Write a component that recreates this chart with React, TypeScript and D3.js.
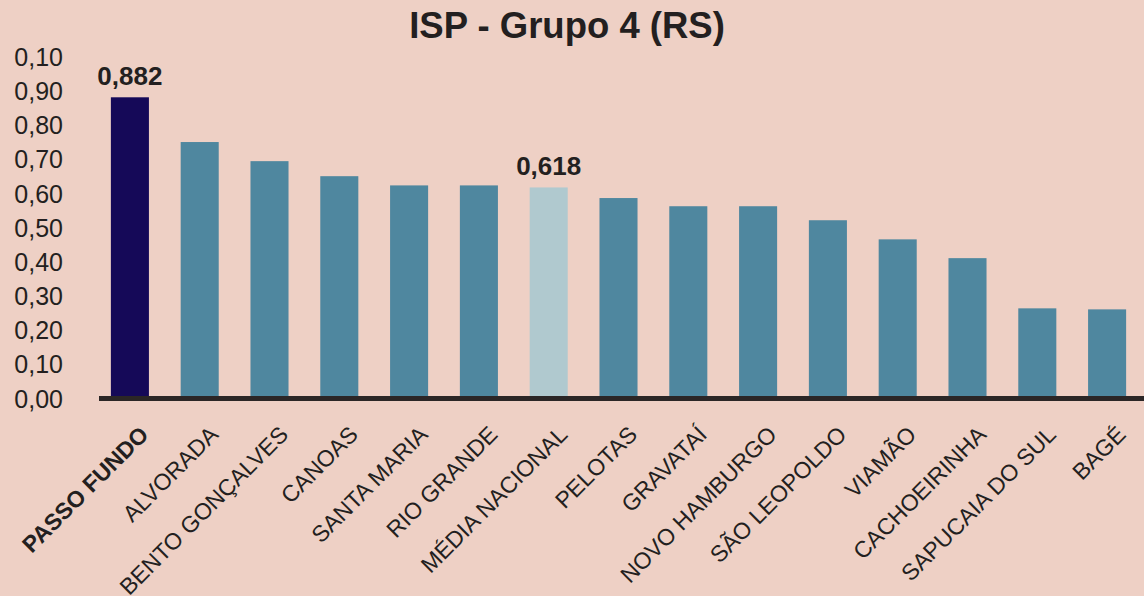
import React from 'react';
import * as d3 from 'd3';

const cities = [
  'PASSO FUNDO', 'ALVORADA', 'BENTO GONÇALVES', 'CANOAS', 'SANTA MARIA',
  'RIO GRANDE', 'MÉDIA NACIONAL', 'PELOTAS', 'GRAVATAÍ', 'NOVO HAMBURGO',
  'SÃO LEOPOLDO', 'VIAMÃO', 'CACHOEIRINHA', 'SAPUCAIA DO SUL', 'BAGÉ'
];
const ispValues = [
  0.882, 0.751, 0.695, 0.651, 0.624,
  0.624, 0.618, 0.587, 0.563, 0.563,
  0.522, 0.466, 0.411, 0.264, 0.261
];
const tickValues = [0, 0.1, 0.2, 0.3, 0.4, 0.5, 0.6, 0.7, 0.8, 0.9, 1.0];
const tickLabels = ['0,00', '0,10', '0,20', '0,30', '0,40', '0,50', '0,60', '0,70', '0,80', '0,90', '0,10'];
const highlighted = ['PASSO FUNDO', 'MÉDIA NACIONAL'];

const W = 1144;
const H = 596;
const FONT = '"Liberation Sans", Arial, Helvetica, sans-serif';
const TEXT = '#231f20';

const barColor = (name: string) => {
  if (name === 'PASSO FUNDO') return '#150958';
  if (name === 'MÉDIA NACIONAL') return '#b0c9cf';
  return '#4f879f';
};

export default function App() {
  const x = d3.scaleBand<string>()
    .domain(cities)
    .range([95, 1142])
    .paddingInner(0.455)
    .paddingOuter(0.2275);
  const y = d3.scaleLinear().domain([0, 1]).range([398.5, 57]);

  const data = cities.map((c, i) => ({ name: c, value: ispValues[i] }));

  return (
    <svg width={W} height={H} style={{ position: 'absolute', left: 0, top: 0, background: '#eed0c5' }}>
      <rect width={W} height={H} fill="#eed0c5" />
      <text x={567} y={38} textAnchor="middle" fontFamily={FONT} fontWeight="bold" fontSize={36.5} fill={TEXT}>
        ISP - Grupo 4 (RS)
      </text>

      {tickValues.map((t, i) => (
        <text key={i} x={63} y={y(t)} dy="0.36em" textAnchor="end" fontFamily={FONT} fontSize={25} fill={TEXT}>
          {tickLabels[i]}
        </text>
      ))}

      {data.map(d => (
        <rect key={d.name} x={x(d.name)} y={y(d.value)} width={x.bandwidth()} height={y(0) - y(d.value)} fill={barColor(d.name)} />
      ))}

      {data.filter(d => highlighted.includes(d.name)).map(d => (
        <text key={d.name} x={(x(d.name) as number) + x.bandwidth() / 2} y={y(d.value) - 12}
          textAnchor="middle" fontFamily={FONT} fontWeight="bold" fontSize={26} fill={TEXT}>
          {d3.format('.3f')(d.value).replace('.', ',')}
        </text>
      ))}

      <line x1={99} x2={W} y1={y(0)} y2={y(0)} stroke="#2b2626" strokeWidth={5} />

      {data.map(d => {
        const cx = (x(d.name) as number) + x.bandwidth() / 2;
        return (
          <text key={d.name} transform={`translate(${cx + 20},${436}) rotate(-45)`} textAnchor="end"
            fontFamily={FONT} fontSize={23} fontWeight={d.name === 'PASSO FUNDO' ? 'bold' : 'normal'} fill={TEXT}>
            {d.name}
          </text>
        );
      })}
    </svg>
  );
}
